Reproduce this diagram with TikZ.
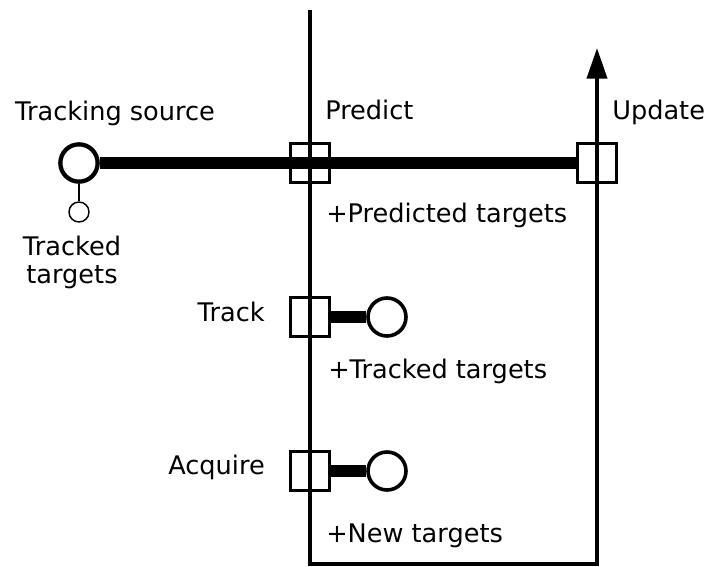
\documentclass[tikz,border=0pt]{standalone}
\usepackage{fontspec}
\setmainfont{DejaVu Sans}
\usetikzlibrary{arrows.meta}
\begin{document}
\begin{tikzpicture}[x=0.75pt,y=-0.75pt,
  font=\fontsize{19.2}{23}\selectfont,
  port/.style={draw,line width=2.7pt,minimum size=29pt,inner sep=0pt},
  store/.style={draw,circle,line width=2.7pt,fill=white,minimum size=28.5pt,inner sep=0pt},
  smallstore/.style={draw,circle,line width=1.1pt,minimum size=15pt,inner sep=0pt},
  flow/.style={line width=3pt},
  link/.style={line width=8.5pt},
  lbl/.style={inner sep=0pt}]
\useasboundingbox (0,0) rectangle (704,567);

% main control flow path
\coordinate (top) at (310,10);
\coordinate (bl) at (310,564);
\coordinate (br) at (597,564);
\coordinate (tip) at (597,48);
\draw[flow,-{Triangle[width=15pt,length=23pt]}] (top) -- (bl) -- (br) -- (tip);

% ports on the flow
\node[port] (predict) at (310,163) {};
\node[port] (update) at (597,163) {};
\node[port] (track) at (310,317) {};
\node[port] (acquire) at (310,471) {};

% data stores
\node[store,line width=3.2pt,minimum size=28pt] (source) at (79,163) {};
\node[smallstore] (tracked) at (79,212) {};
\node[store] (trackstore) at (387,317) {};
\node[store] (acqstore) at (387,471) {};

% connections
\draw[link] (source.east) -- (update.west);
\draw[link] (track.east) -- (trackstore.west);
\draw[link] (acquire.east) -- (acqstore.west);
\draw[line width=1.1pt] (source.south) -- (tracked.north);

% labels
\node[lbl,anchor=base] (tsl) at (115,121) {Tracking source};
\node[lbl,anchor=base west] (pl) at (325,120) {Predict};
\node[lbl,anchor=base west] (ul) at (612,120) {Update};
\node[lbl,anchor=base west] (ptl) at (326,222) {+Predicted targets};
\node[lbl,anchor=base east] (trl) at (265,321) {Track};
\node[lbl,anchor=base west] (ttl) at (328,378) {+Tracked targets};
\node[lbl,anchor=base east] (acl) at (265,474) {Acquire};
\node[lbl,anchor=base west] (ntl) at (326,542) {+New targets};
\node[lbl,anchor=base] (tt1) at (72,255) {Tracked};
\node[lbl,anchor=base] (tt2) at (72,283) {targets};
\end{tikzpicture}
\end{document}
